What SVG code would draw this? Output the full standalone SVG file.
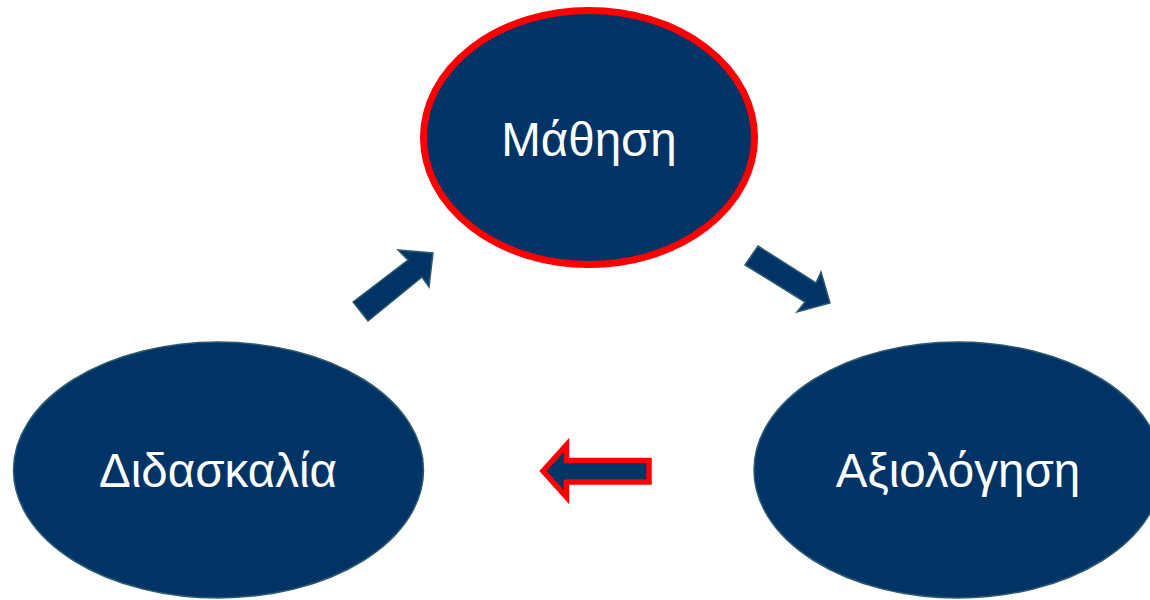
<svg xmlns="http://www.w3.org/2000/svg" width="1150" height="600" viewBox="0 0 1150 600">
<style>
.node{fill:#003366;stroke:#2E5C6E;stroke-width:1.5}
.hl{stroke:#FF0000;stroke-width:7}
.lbl{fill:#FFFFFF;font-family:"Liberation Sans",Arial,sans-serif;font-size:47.5px;text-anchor:middle}
.arr{fill:#003366;stroke:#2E5C6E;stroke-width:1.5;stroke-linejoin:miter}
.arr-red{fill:#003366;stroke:#FF0000;stroke-width:5.5;stroke-linejoin:miter}
</style>
<rect width="1150" height="600" fill="#FFFFFF"/>
<g id="connectors">
<polygon class="arr" points="353,302 408,260 398,250 433,253 429,287 422,277 368,321"/>
<polygon class="arr" points="758,246 816,283 821,272 830,303 797,312 805,302 745,265"/>
<polygon class="arr-red" points="543,471 566.5,445 566.5,460.5 649,460.5 649,482 566.5,482 566.5,497"/>
</g>
<g id="node-mathisi">
<ellipse class="node hl" cx="589" cy="137.5" rx="165.5" ry="127"/>
<text class="lbl" x="589" y="156">Μάθηση</text>
</g>
<g id="node-didaskalia">
<ellipse class="node" cx="218.5" cy="470" rx="205" ry="128"/>
<text class="lbl" x="218" y="487">Διδασκαλία</text>
</g>
<g id="node-axiologisi">
<ellipse class="node" cx="958" cy="470" rx="204" ry="128"/>
<text class="lbl" x="958" y="487">Αξιολόγηση</text>
</g>
</svg>
